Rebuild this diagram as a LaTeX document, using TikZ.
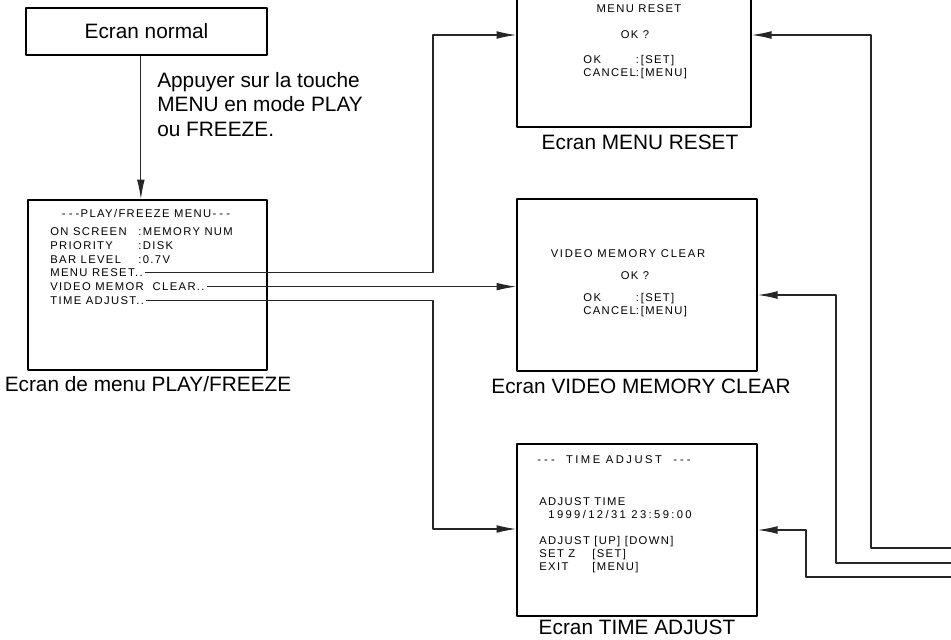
\documentclass[tikz,border=0pt]{standalone}
\usepackage{fontspec}
\setmainfont{Liberation Sans}
\newfontfamily\scrfont[LetterSpace=12]{Liberation Sans}
\usetikzlibrary{arrows.meta}
\newcommand\trait{-\kern2.2pt-\kern2.2pt-}
\newcommand\colmenu[1]{\makebox[2.2cm][l]{#1}}
\newcommand\coltime[1]{\makebox[1.325cm][l]{#1}}
\tikzset{
  ecran/.style={draw, line width=1.1pt, inner sep=0pt},
  ecrtxt/.style={font=\scrfont\fontsize{8pt}{9.5pt}\selectfont, inner sep=1.5pt, anchor=base west},
  legende/.style={font=\fontsize{14.8pt}{17.4pt}\selectfont, inner sep=0pt, anchor=base},
  fleche/.style={line width=0.8pt, black!85, -{Latex[length=14pt,width=5.5pt]}}
}
\begin{document}
\begin{tikzpicture}[x=0.025cm, y=-0.025cm, line join=round]
\useasboundingbox (0,0) rectangle (951,639);
% Cadres des écrans
\node[ecran, minimum width=6.025cm, minimum height=1.175cm, font=\fontsize{14.8pt}{17.4pt}\selectfont] (normal) at (146.5,31.5) {Ecran normal};
\node[ecran, minimum width=5.975cm, minimum height=4.25cm] (menu) at (147.5,285) {};
\node[ecran, minimum width=5.85cm, minimum height=3.5cm] (reset) at (634,57) {};
\node[ecran, minimum width=6cm, minimum height=4.3cm] (video) at (637,285) {};
\node[ecran, minimum width=6cm, minimum height=4.3cm] (time) at (637,530) {};
% Consigne
\node[font=\fontsize{14.8pt}{17.4pt}\selectfont, align=left, anchor=north west, inner sep=0pt] (consigne) at (157,72) {Appuyer sur la touche\\MENU en mode PLAY\\ou FREEZE.};
% Menu PLAY/FREEZE
\node[ecrtxt, anchor=base] (mtitre) at (146,217) {\trait PLAY/FREEZE MENU\trait};
\foreach \nom/\txt [count=\i] in {mon/{\colmenu{ON SCREEN}:MEMORY NUM}, mprio/{\colmenu{PRIORITY}:DISK}, mbar/{\colmenu{BAR LEVEL}:0.7V}, mreset/{MENU RESET..}, mvideo/{VIDEO MEMOR\ \ CLEAR..}, mtime/{TIME ADJUST..}}
  \node[ecrtxt] (\nom) at (48,222+13.7*\i) {\txt};
% Ecran MENU RESET
\node[ecrtxt, anchor=base] (rtitre) at (639,12) {MENU RESET};
\node[ecrtxt, anchor=base] (rok) at (635,38) {OK ?};
\node[ecrtxt] (rchoix) at (581,63) {\begin{tabular}[t]{@{}l@{}l@{}}OK & :\,[SET]\\ CANCEL & :\,[MENU]\end{tabular}};
% Ecran VIDEO MEMORY CLEAR
\node[ecrtxt, anchor=base] (vtitre) at (628,257) {\addfontfeature{LetterSpace=15}VIDEO MEMORY CLEAR};
\node[ecrtxt, anchor=base] (vok) at (635,279) {OK ?};
\node[ecrtxt] (vchoix) at (581,301) {\begin{tabular}[t]{@{}l@{}l@{}}OK & :\,[SET]\\ CANCEL & :\,[MENU]\end{tabular}};
% Ecran TIME ADJUST
\node[ecrtxt] (ttitre) at (535,463) {\addfontfeature{LetterSpace=22}\trait\ \ TIME ADJUST\ \ \trait};
\node[ecrtxt] (tlib) at (537,505) {ADJUST TIME};
\node[ecrtxt] (tdate) at (546,518) {\addfontfeature{LetterSpace=21}1999/12/31 23:59:00};
\node[ecrtxt] (tadj) at (537,544) {ADJUST [UP] [DOWN]};
\node[ecrtxt] (tset) at (537,557) {\coltime{SET Z}[SET]};
\node[ecrtxt] (texit) at (537,570) {\coltime{EXIT}[MENU]};
% Légendes
\node[legende] (lmenu) at (148,391) {Ecran de menu PLAY/FREEZE};
\node[legende] (lreset) at (640,149) {Ecran MENU RESET};
\node[legende] (lvideo) at (641,393) {Ecran VIDEO MEMORY CLEAR};
\node[legende] (ltime) at (637,634.5) {Ecran TIME ADJUST};
% Points de coude
\path
(433,35) coordinate (kreset)
(433,529) coordinate (ktime)
(871,35) coordinate (kr2)
(836,295) coordinate (kv2)
(806,530) coordinate (kt2)
(951,548) coordinate (bord1)
(951,563) coordinate (bord2)
(951,577) coordinate (bord3);
\coordinate (n1) at ([xshift=-4pt]normal.south);
% Flèches
\draw[fleche] (n1) -- (n1 |- menu.north);
\draw[fleche] (mreset.east) -| (kreset) -- (kreset -| reset.west);
\draw[fleche] (mvideo.east) -- (mvideo.east -| video.west);
\draw[fleche] (mtime.east) -| (ktime) -- (ktime -| time.west);
\draw[fleche] (bord1) -| (kr2) -- (kr2 -| reset.east);
\draw[fleche] (bord2) -| (kv2) -- (kv2 -| video.east);
\draw[fleche] (bord3) -| (kt2) -- (kt2 -| time.east);
\end{tikzpicture}
\end{document}
